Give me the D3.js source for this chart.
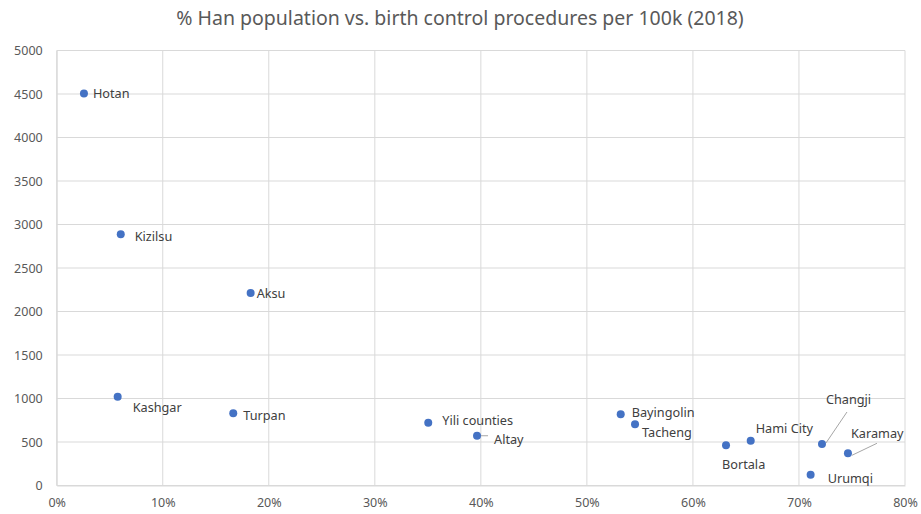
<!DOCTYPE html>
<html>
<head>
<meta charset="utf-8">
<script src="https://cdn.jsdelivr.net/npm/d3@7"></script>
<style>
  body { margin: 0; background: #fff; }
  svg text { font-family: "Noto Sans", "Open Sans", sans-serif; }
</style>
</head>
<body>
<svg id="chart" width="921" height="514"></svg>
<script>
// data
const regions = ["Hotan", "Kizilsu", "Aksu", "Kashgar", "Turpan", "Yili counties", "Altay",
  "Bayingolin", "Tacheng", "Bortala", "Hami City", "Changji", "Karamay", "Urumqi"];
const hanShare = [0.0257, 0.0604, 0.1829, 0.0575, 0.1665, 0.3504, 0.3964,
  0.5319, 0.5454, 0.6312, 0.6545, 0.7217, 0.7462, 0.711];
const procedures = [4505, 2887, 2213, 1021, 830, 722, 572,
  818, 703, 462, 515, 477, 370, 124];
const xTicks = [0, 0.1, 0.2, 0.3, 0.4, 0.5, 0.6, 0.7, 0.8];
const yTicks = [0, 500, 1000, 1500, 2000, 2500, 3000, 3500, 4000, 4500, 5000];

// label placement (offset of text from its point), leader lines where excel drew them
const labelPos = {
  "Hotan": [9, 0], "Kizilsu": [14, 2], "Aksu": [6, 1], "Kashgar": [15, 11],
  "Turpan": [10, 2], "Yili counties": [14, -2], "Altay": [17, 4],
  "Bayingolin": [11, -2], "Tacheng": [7, 8], "Bortala": [-4, 19],
  "Hami City": [5, -12], "Changji": [4, -44], "Karamay": [3, -20], "Urumqi": [17, 4]
};
const leaders = {
  "Altay": [[4, 0], [11, 0]],
  "Changji": [[4, -1], [25, -32]],
  "Karamay": [[4, 2], [29, -10]]
};

const svg = d3.select("#chart");
const margin = {top: 50.5, right: 16, bottom: 28.5, left: 56.7};
const W = 921, H = 514;

const x = d3.scaleLinear().domain([0, 0.8]).range([margin.left, W - margin.right]);
const y = d3.scaleLinear().domain([0, 5000]).range([H - margin.bottom, margin.top]);

svg.append("text")
  .attr("x", 460).attr("y", 25)
  .attr("text-anchor", "middle")
  .attr("font-size", 19.5)
  .attr("fill", "#595959")
  .text("% Han population vs. birth control procedures per 100k (2018)");

// gridlines
svg.append("g").selectAll("line").data(yTicks).join("line")
  .attr("x1", x(0)).attr("x2", x(0.8))
  .attr("y1", d => y(d)).attr("y2", d => y(d))
  .attr("stroke", "#d9d9d9").attr("stroke-width", 1);
svg.append("g").selectAll("line").data(xTicks).join("line")
  .attr("x1", d => x(d)).attr("x2", d => x(d))
  .attr("y1", y(0)).attr("y2", y(5000))
  .attr("stroke", "#d9d9d9").attr("stroke-width", 1);

// axes
const yAxis = svg.append("g")
  .attr("transform", `translate(${margin.left},0)`)
  .call(d3.axisLeft(y).tickValues(yTicks).tickFormat(d3.format("d")).tickSize(0).tickPadding(14));
const xAxis = svg.append("g")
  .attr("transform", `translate(0,${y(0)})`)
  .call(d3.axisBottom(x).tickValues(xTicks).tickFormat(d3.format(".0%")).tickSize(0).tickPadding(13));
[yAxis, xAxis].forEach(a => {
  a.select(".domain").attr("stroke", "#d9d9d9");
  a.selectAll("text").attr("fill", "#595959").attr("font-size", 12.5)
    .style("font-family", "'Noto Sans', sans-serif");
});

const pts = regions.map((r, i) => ({name: r, px: x(hanShare[i]), py: y(procedures[i])}));

// leader lines
svg.append("g").selectAll("line").data(pts.filter(p => leaders[p.name])).join("line")
  .attr("x1", p => p.px + leaders[p.name][0][0]).attr("y1", p => p.py + leaders[p.name][0][1])
  .attr("x2", p => p.px + leaders[p.name][1][0]).attr("y2", p => p.py + leaders[p.name][1][1])
  .attr("stroke", "#a6a6a6").attr("stroke-width", 1);

svg.append("g").selectAll("circle").data(pts).join("circle")
  .attr("cx", p => p.px).attr("cy", p => p.py)
  .attr("r", 4).attr("fill", "#4472c4");

svg.append("g").selectAll("text").data(pts).join("text")
  .attr("x", p => p.px + labelPos[p.name][0])
  .attr("y", p => p.py + labelPos[p.name][1])
  .attr("dy", "0.35em")
  .attr("font-size", 12.7)
  .attr("fill", "#404040")
  .text(p => p.name);
</script>
</body>
</html>
